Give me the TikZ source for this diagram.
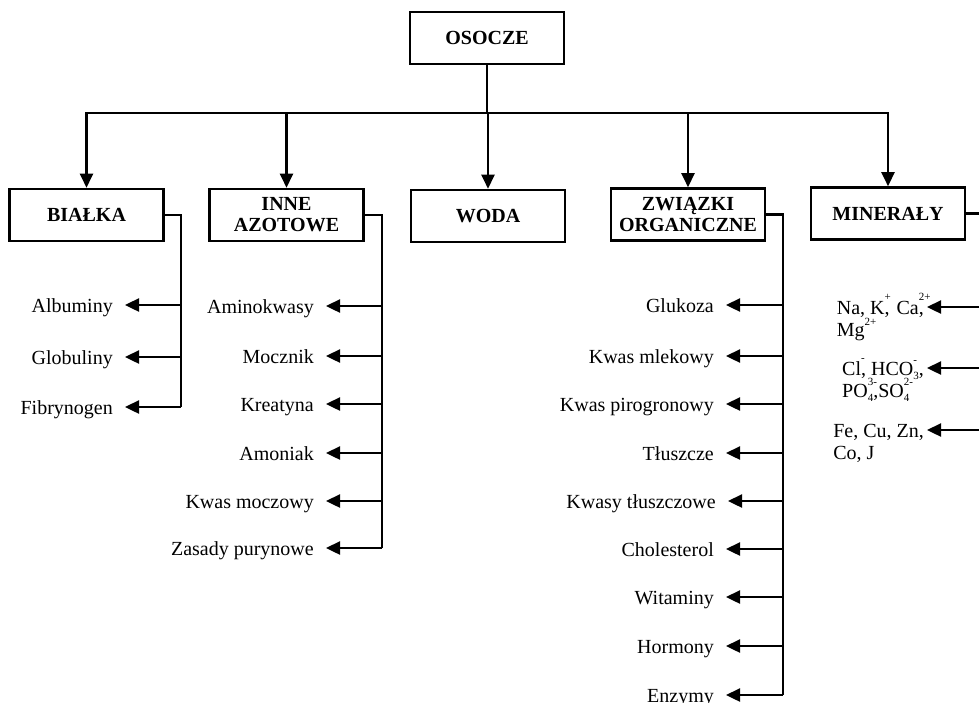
\documentclass[tikz,border=0pt]{standalone}
\usepackage{fontspec}
\setmainfont{Liberation Serif}
\usetikzlibrary{arrows.meta}
% ion charges: zero-width superscript, superscript with width, stacked sub/superscript
\newcommand\chgz[1]{\rlap{\raisebox{0.7em}{\fontsize{11}{11}\selectfont #1}}}
\newcommand\chgw[1]{\raisebox{0.55em}{\fontsize{11}{11}\selectfont #1}}
\newcommand\idxchg[2]{\rlap{\raisebox{0.6em}{\fontsize{11}{11}\selectfont #2}}\raisebox{-0.22em}{\fontsize{11}{11}\selectfont #1}}
\begin{document}
\begin{tikzpicture}[x=1pt,y=-1pt,
  line/.style={line width=2.4pt},
  arr/.style={line width=2.4pt,-{Triangle[length=14pt,width=13pt]}},
  group/.style={draw,line width=2.6pt,minimum width=154pt,minimum height=52pt,
    inner sep=2pt,align=center,font=\fontsize{20}{21}\selectfont\bfseries},
  item/.style={anchor=east,inner xsep=12pt,inner ysep=0pt,text height=14pt,
    text depth=0pt,font=\fontsize{20}{24}\selectfont},
  ion/.style={item,inner xsep=3pt},
]
\path[use as bounding box,fill=white] (0,0) rectangle (979,702);
\clip (0,0) rectangle (979,702);

% top level
\node[group] (osocze) at (487,38) {OSOCZE};
\coordinate (hub) at (0,113);
\node[group] (bialka) at (86.5,215) {BIAŁKA};
\node[group] (inne) at (286.5,215) {INNE\\AZOTOWE};
\node[group] (woda) at (488,216) {WODA};
\node[group] (zwiazki) at (688,214.5) {ZWIĄZKI\\ORGANICZNE};
\node[group] (mineraly) at (888,213.5) {MINERAŁY};

\draw[line] (osocze.south) -- (osocze.south |- hub);
\draw[line,line cap=rect] (bialka.north |- hub) -- (mineraly.north |- hub);
\foreach \n in {bialka,inne,woda,zwiazki,mineraly}
  \draw[arr] (\n.north |- hub) -- (\n.north);

% proteins
\coordinate (bsp) at (181,0);
\node[item] (alb) at (125,305) {Albuminy};
\node[item] (glob) at (125,357) {Globuliny};
\node[item] (fib) at (125,407) {Fibrynogen};
\draw[line] (bialka.east) -| (bsp |- fib.east);
\foreach \n in {alb,glob,fib}
  \draw[arr] (bsp |- \n.east) -- (\n.east);

% other nitrogen compounds
\coordinate (asp) at (382,0);
\node[item] (amk) at (326,306) {Aminokwasy};
\node[item] (moc) at (326,356) {Mocznik};
\node[item] (kre) at (326,404) {Kreatyna};
\node[item] (amo) at (326,453) {Amoniak};
\node[item] (kmo) at (326,501) {Kwas moczowy};
\node[item] (zpu) at (326,548) {Zasady purynowe};
\draw[line] (inne.east) -| (asp |- zpu.east);
\foreach \n in {amk,moc,kre,amo,kmo,zpu}
  \draw[arr] (asp |- \n.east) -- (\n.east);

% organic compounds
\coordinate (osp) at (783,0);
\node[item] (glu) at (726,305) {Glukoza};
\node[item] (kml) at (726,356) {Kwas mlekowy};
\node[item] (kpi) at (726,404) {Kwas pirogronowy};
\node[item] (tlu) at (726,453) {Tłuszcze};
\node[item] (ktl) at (728,501) {Kwasy tłuszczowe};
\node[item] (cho) at (726,549) {Cholesterol};
\node[item] (wit) at (726,597) {Witaminy};
\node[item] (hor) at (726,646) {Hormony};
\node[item] (enz) at (726,695) {Enzymy};
\draw[line] (zwiazki.east) -| (osp |- enz.east);
\foreach \n in {glu,kml,kpi,tlu,ktl,cho,wit,hor,enz}
  \draw[arr] (osp |- \n.east) -- (\n.east);

% minerals
\coordinate (msp) at (986,0);
\node[ion] (m1) at (927,307) {Na, K\chgz{+},\hspace{2pt} Ca\chgz{2+},};
\node[ion,anchor=base west] (m1b) at ([yshift=-22pt]m1.base west) {Mg\chgw{2+}};
\node[ion] (m2) at (927,368) {Cl\chgz{-}, HCO\idxchg{3}{-},};
\node[ion,anchor=base west] (m2b) at ([yshift=-22pt]m2.base west) {PO\idxchg{4}{3-},SO\idxchg{4}{2-}};
\node[ion] (m3) at (927,430) {Fe, Cu, Zn,};
\node[ion,anchor=base west] (m3b) at ([yshift=-22pt]m3.base west) {Co, J};
\draw[line] (mineraly.east) -| (msp |- m3.east);
\foreach \n in {m1,m2,m3}
  \draw[arr] (msp |- \n.east) -- (\n.east);
\end{tikzpicture}
\end{document}
